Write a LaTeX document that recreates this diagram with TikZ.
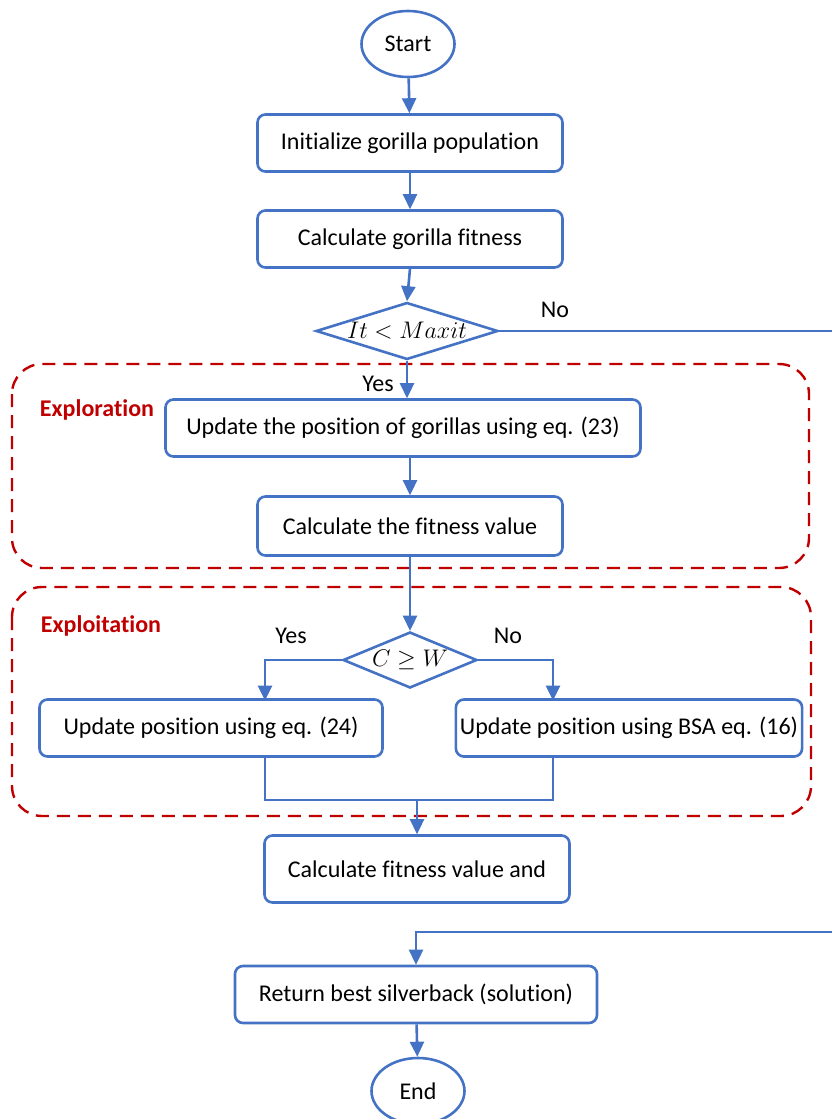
\documentclass[tikz,border=0pt]{standalone}
\usepackage{fontspec}
\setmainfont{Carlito}[RawFeature={-liga;-clig;-dlig}]
\usetikzlibrary{shapes.geometric,arrows.meta}

\definecolor{flowblue}{HTML}{4472C4}
\definecolor{zonered}{HTML}{C00000}

\begin{document}
\begin{tikzpicture}[x=0.5pt,y=-0.5pt,
  font=\fontsize{12}{14}\selectfont,
  line/.style={flowblue,line width=1.3pt},
  arrow/.style={line,-{Triangle[width=7pt,length=7.5pt]}},
  terminal/.style={ellipse,draw=flowblue,line width=1.3pt,minimum width=46.5pt,minimum height=33pt,inner sep=0pt},
  process/.style={rectangle,rounded corners=4pt,draw=flowblue,line width=1.3pt,minimum height=28.5pt,inner sep=2pt},
  decision/.style={diamond,draw=flowblue,line width=1.3pt,inner sep=0pt},
  zone/.style={zonered,line width=1.2pt,dash pattern=on 6.5pt off 4pt,rounded corners=15pt},
  zonelabel/.style={zonered,font=\fontsize{12}{14}\selectfont\bfseries}]
  \useasboundingbox (0,0) rectangle (832,1119);

  % Dashed phase regions
  \draw[zone] (12,364) rectangle (809,568);
  \draw[zone] (12,587) rectangle (811,816);
  \node[zonelabel] (explor) at (97,410) {Exploration};
  \node[zonelabel] (exploit) at (101,626) {Exploitation};

  % Main flow
  \node[terminal] (start) at (408,44) {Start};
  \node[process, minimum width=152.5pt] (init) at (410,143) {Initialize gorilla population};
  \node[process, minimum width=152.5pt] (fit) at (410,239) {Calculate gorilla fitness};
  \node[decision, minimum width=91pt, minimum height=28.5pt, aspect=3.2] (cond) at (407,331) {$It < Maxit$};
  \node[process, minimum width=237.5pt] (update) at (403,428) {Update the position of gorillas using eq. (23)};
  \node[process, minimum width=152.5pt, minimum height=29.5pt] (fitval) at (410,526) {Calculate the fitness value};
  \node[decision, minimum width=67pt, minimum height=28pt, aspect=2.4] (cw) at (410,660) {$C \geq W$};
  \node[process, minimum width=171.5pt] (left) at (211,728) {Update position using eq. (24)};
  \node[process, minimum width=172pt] (right) at (629,728) {Update position using BSA eq. (16)};
  \node[process, minimum width=152.5pt, minimum height=33.5pt] (fitand) at (417,869) {Calculate fitness value and};
  \node[process, minimum width=181pt] (ret) at (416,994.5) {Return best silverback (solution)};
  \node[terminal] (end) at (418,1091) {End};

  % Free ends at the cut right edge
  \coordinate (noend) at (832,331);
  \coordinate (back) at (832,932);
  \coordinate (merge) at (417,800);

  % Connectors
  \draw[arrow] (start) -- (init);
  \draw[arrow] (init) -- (fit);
  \draw[arrow] (fit.south) -- (cond.north);
  \draw[arrow] (cond.south) -- (cond.south |- update.north);
  \draw[arrow] (update.south -| fitval.north) -- (fitval.north);
  \draw[arrow] (fitval) -- (cw);
  \draw[line] (cond.east) -- (noend);
  \draw[arrow] (cw.west) -- (265,660) -- (265,700.5);
  \draw[arrow] (cw.east) -- (553,660) -- (553,700.5);
  \draw[line] (265,756.5) -- (265,800) -- (553,800) -- (553,756.5);
  \draw[arrow] (merge) -- (merge |- fitand.north);
  \draw[arrow] (back) -- (back -| ret.north) -- (ret.north);
  \draw[arrow] (ret) -- (end);

  % Branch labels
  \node (yes1) at (378,384) {Yes};
  \node (no1) at (555,310) {No};
  \node (yes2) at (291,636) {Yes};
  \node (no2) at (508,636) {No};
\end{tikzpicture}
\end{document}
